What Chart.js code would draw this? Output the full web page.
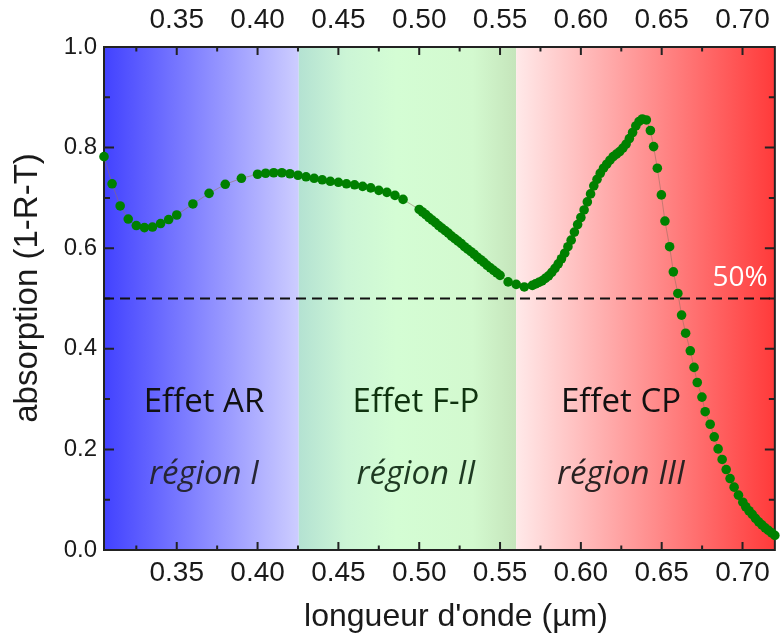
<!DOCTYPE html>
<html>
<head>
<meta charset="utf-8">
<script src="https://cdn.jsdelivr.net/npm/chart.js@4.4.1/dist/chart.umd.min.js"></script>
<style>
html,body{margin:0;padding:0;background:#ffffff;}
#wrap{width:780px;height:640px;}
</style>
</head>
<body>
<div id="wrap"><canvas id="c" width="780" height="640"></canvas></div>
<script>
// ---- data ----
const wavelength = [
  0.305, 0.310, 0.315, 0.320, 0.325, 0.330, 0.335, 0.340, 0.345, 0.350,
  0.360, 0.370, 0.380, 0.390, 0.400, 0.405, 0.410, 0.415, 0.420, 0.425,
  0.430, 0.435, 0.440, 0.445, 0.450, 0.455, 0.460, 0.465, 0.470, 0.475,
  0.480, 0.485, 0.490,
  0.500, 0.502, 0.504, 0.506, 0.508, 0.510, 0.512, 0.514, 0.516, 0.518,
  0.520, 0.522, 0.524, 0.526, 0.528, 0.530, 0.532, 0.534, 0.536, 0.538,
  0.540, 0.542, 0.544, 0.546, 0.548, 0.550,
  0.555, 0.560, 0.565, 0.570,
  0.572, 0.574, 0.576, 0.578, 0.580, 0.582, 0.584, 0.586, 0.588, 0.590,
  0.592, 0.594, 0.596, 0.598, 0.600, 0.602, 0.604, 0.606, 0.608, 0.610,
  0.612, 0.614, 0.616, 0.618, 0.620, 0.622, 0.624, 0.626, 0.628, 0.630,
  0.632, 0.634, 0.636, 0.638, 0.6405,
  0.643, 0.645, 0.6473, 0.6498, 0.652, 0.6549, 0.6572, 0.660, 0.6623,
  0.6648, 0.6677, 0.670, 0.672, 0.6749, 0.6769, 0.680, 0.6825, 0.6849,
  0.6874, 0.6899, 0.6923, 0.6948, 0.6975, 0.7002,
  0.702, 0.704, 0.706, 0.708, 0.710, 0.712, 0.714, 0.716, 0.718, 0.720
];
const absorption = [
  0.782, 0.728, 0.684, 0.658, 0.645, 0.641, 0.642, 0.649, 0.657, 0.666,
  0.688, 0.709, 0.727, 0.739, 0.747, 0.749, 0.750, 0.750, 0.748, 0.745,
  0.742, 0.739, 0.736, 0.733, 0.731, 0.728, 0.726, 0.723, 0.720, 0.715,
  0.711, 0.705, 0.697,
  0.677, 0.672, 0.667, 0.661, 0.656, 0.651, 0.645, 0.640, 0.635, 0.630,
  0.624, 0.619, 0.614, 0.609, 0.603, 0.598, 0.593, 0.588, 0.582, 0.577,
  0.572, 0.566, 0.561, 0.556, 0.551, 0.546,
  0.533, 0.528, 0.523, 0.526,
  0.529, 0.532, 0.535, 0.540, 0.545, 0.552, 0.560, 0.569, 0.579, 0.590,
  0.603, 0.616, 0.632, 0.647, 0.661, 0.676, 0.692, 0.708, 0.724, 0.737,
  0.749, 0.759, 0.767, 0.775, 0.782, 0.787, 0.792, 0.799, 0.807, 0.818,
  0.830, 0.843, 0.852, 0.857, 0.855,
  0.834, 0.802, 0.759, 0.706, 0.654, 0.603, 0.553, 0.510, 0.467,
  0.431, 0.396, 0.363, 0.333, 0.304, 0.275, 0.250, 0.225, 0.201,
  0.180, 0.160, 0.142, 0.125, 0.109, 0.095,
  0.086, 0.078, 0.071, 0.063, 0.056, 0.050, 0.044, 0.039, 0.034, 0.029
];
const xRange = [0.305, 0.72];
const yRange = [0, 1];
const xTickValues = [0.35, 0.40, 0.45, 0.50, 0.55, 0.60, 0.65, 0.70];
const xTickLabels = ['0.35', '0.40', '0.45', '0.50', '0.55', '0.60', '0.65', '0.70'];
const xMinorTicks = [0.325, 0.375, 0.425, 0.475, 0.525, 0.575, 0.625, 0.675];
const yTickValues = [0.0, 0.2, 0.4, 0.6, 0.8, 1.0];
const yTickLabels = ['0.0', '0.2', '0.4', '0.6', '0.8', '1.0'];
const yMinorTicks = [0.1, 0.3, 0.5, 0.7, 0.9];
const regionEdges = [0.305, 0.4255, 0.56, 0.72];
const regionNames = ['Effet AR', 'Effet F-P', 'Effet CP'];
const regionSubtitles = ['région I', 'région II', 'région III'];
const thresholdValue = 0.5;
const thresholdLabel = '50%';
const xAxisTitle = "longueur d'onde (µm)";
const yAxisTitle = 'absorption (1-R-T)';

// ---- styling / decoration plugin ----
const regionStyles = [
  { stops: [[0, '#4242ff'], [1, '#cdcdff']], name: '#111111', sub: '#262636', labelX: 204 },
  { stops: [[0, '#b4e2d2'], [0.22, '#ccf5d6'], [0.45, '#d4fdd4'], [0.8, '#d3f9cf'], [1, '#c5e5bb']], name: '#0f330f', sub: '#1e3a22', labelX: 416 },
  { stops: [[0, '#ffe9e9'], [1, '#ff3a3a']], name: '#111111', sub: '#2a2222', labelX: 621 }
];
const TEXT_FONT = '"Open Sans", "Noto Sans", sans-serif';
const AXIS_FONT = '"Liberation Sans", Arial, sans-serif';

const decor = {
  id: 'decor',
  beforeDatasetsDraw(chart) {
    const { ctx, chartArea: a, scales } = chart;
    const xs = scales.x, ys = scales.y;
    ctx.save();
    for (let i = 0; i < 3; i++) {
      const x0 = xs.getPixelForValue(regionEdges[i]);
      const x1 = xs.getPixelForValue(regionEdges[i + 1]);
      const g = ctx.createLinearGradient(x0, 0, x1, 0);
      regionStyles[i].stops.forEach(s => g.addColorStop(s[0], s[1]));
      ctx.fillStyle = g;
      ctx.fillRect(x0, a.top, x1 - x0, a.bottom - a.top);
    }
    ctx.textAlign = 'center';
    ctx.textBaseline = 'alphabetic';
    for (let i = 0; i < 3; i++) {
      const st = regionStyles[i];
      ctx.fillStyle = st.name;
      ctx.font = '33px ' + TEXT_FONT;
      ctx.fillText(regionNames[i], st.labelX, 412);
      ctx.fillStyle = st.sub;
      ctx.font = 'italic 33px ' + TEXT_FONT;
      ctx.fillText(regionSubtitles[i], st.labelX, 484);
    }
    ctx.strokeStyle = '#222222';
    ctx.lineWidth = 2;
    ctx.strokeRect(a.left, a.top, a.right - a.left, a.bottom - a.top);
    const xt = (v, len) => {
      const p = xs.getPixelForValue(v);
      ctx.beginPath();
      ctx.moveTo(p, a.bottom); ctx.lineTo(p, a.bottom - len);
      ctx.moveTo(p, a.top); ctx.lineTo(p, a.top + len);
      ctx.stroke();
    };
    const yt = (v, len) => {
      const p = ys.getPixelForValue(v);
      ctx.beginPath();
      ctx.moveTo(a.left, p); ctx.lineTo(a.left + len, p);
      ctx.moveTo(a.right, p); ctx.lineTo(a.right - len, p);
      ctx.stroke();
    };
    xTickValues.forEach(v => xt(v, 8));
    xMinorTicks.forEach(v => xt(v, 4.5));
    yTickValues.forEach(v => yt(v, 10));
    yMinorTicks.forEach(v => yt(v, 6));
    ctx.restore();
  },
  afterDatasetsDraw(chart) {
    const { ctx } = chart;
    ctx.save();
    ctx.fillStyle = '#ffffff';
    ctx.font = '28px ' + TEXT_FONT;
    ctx.textAlign = 'center';
    ctx.textBaseline = 'alphabetic';
    ctx.fillText(thresholdLabel, 740, 286);
    ctx.restore();
  },
  afterDraw(chart) {
    const { ctx } = chart;
    ctx.save();
    ctx.fillStyle = '#1a1a1a';
    ctx.textAlign = 'center';
    ctx.textBaseline = 'alphabetic';
    ctx.font = '32px ' + AXIS_FONT;
    ctx.fillText(xAxisTitle, 456, 626);
    ctx.translate(37, 288);
    ctx.rotate(-Math.PI / 2);
    ctx.font = '33px ' + AXIS_FONT;
    ctx.fillText(yAxisTitle, 0, 0);
    ctx.restore();
  }
};

const tickFontX = { family: AXIS_FONT, size: 28 };
const tickFontY = { family: AXIS_FONT, size: 24 };

const xAxis = (position, padding, height) => ({
  type: 'linear', position, min: xRange[0], max: xRange[1],
  grid: { display: false, drawTicks: false }, border: { display: false },
  ticks: { autoSkip: false, maxRotation: 0, minRotation: 0, padding, color: '#1a1a1a', font: tickFontX,
           callback: (v, i) => xTickLabels[i] },
  afterBuildTicks: s => { s.ticks = xTickValues.map(v => ({ value: v })); },
  afterFit: s => { s.height = height; }
});

new Chart(document.getElementById('c').getContext('2d'), {
  type: 'scatter',
  data: {
    datasets: [
      {
        label: 'absorption',
        data: wavelength.map((w, i) => ({ x: w, y: absorption[i] })),
        showLine: true, tension: 0,
        borderColor: 'rgba(150,110,95,0.55)', borderWidth: 1,
        pointRadius: 4.8, pointHoverRadius: 4.8,
        pointBackgroundColor: '#008000', pointBorderWidth: 0, pointBorderColor: '#008000',
        clip: false
      },
      {
        label: thresholdLabel,
        data: xRange.map(x => ({ x, y: thresholdValue })),
        showLine: true, borderColor: '#111111', borderWidth: 2, borderDash: [10, 6],
        pointRadius: 0, pointHoverRadius: 0
      }
    ]
  },
  options: {
    responsive: false, animation: false, events: [],
    layout: { padding: 0 },
    plugins: { legend: { display: false }, tooltip: { enabled: false } },
    scales: {
      x: xAxis('bottom', 6, 90),
      x2: xAxis('top', 10, 47),
      y: {
        type: 'linear', position: 'left', min: yRange[0], max: yRange[1],
        grid: { display: false, drawTicks: false }, border: { display: false },
        ticks: { autoSkip: false, padding: 7, color: '#1a1a1a', font: tickFontY,
                 callback: (v, i) => yTickLabels[i] },
        afterBuildTicks: s => { s.ticks = yTickValues.map(v => ({ value: v })); },
        afterFit: s => { s.width = 104; }
      },
      y2: {
        type: 'linear', position: 'right', min: yRange[0], max: yRange[1],
        grid: { display: false, drawTicks: false }, border: { display: false },
        ticks: { display: false },
        afterFit: s => { s.width = 3; }
      }
    }
  },
  plugins: [decor]
});
</script>
</body>
</html>
